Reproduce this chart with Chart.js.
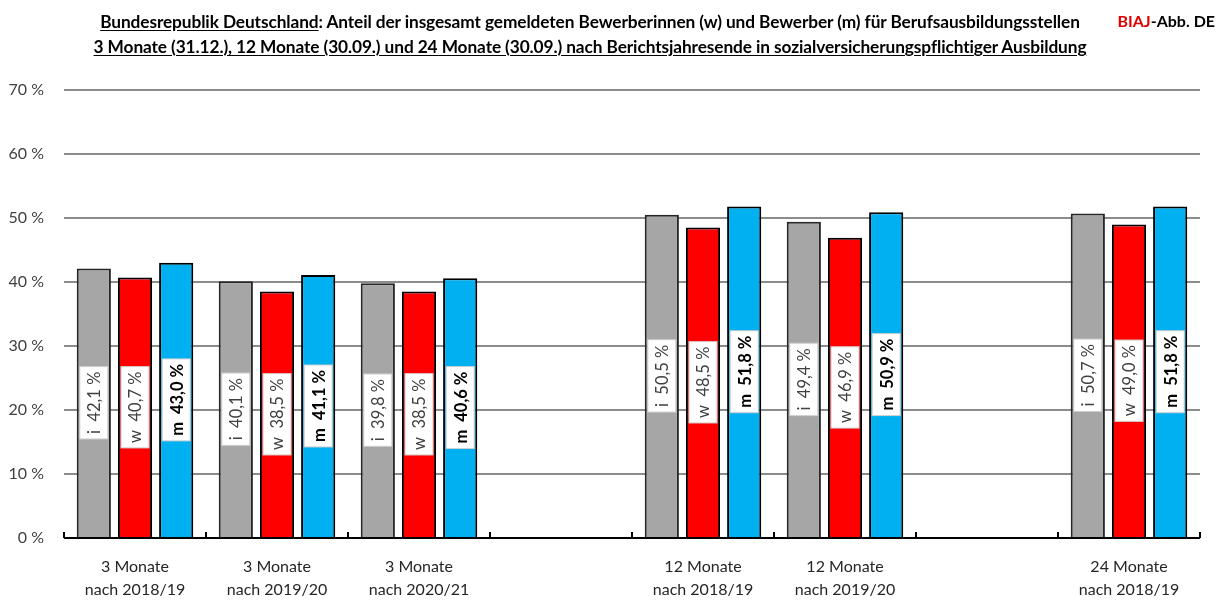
<!DOCTYPE html>
<html lang="de">
<head>
<meta charset="utf-8">
<script src="https://cdn.jsdelivr.net/npm/chart.js@4.4.1/dist/chart.umd.min.js"></script>
<style>
    html, body { margin: 0; padding: 0; background: #fff; }
    #wrap { position: relative; width: 1223px; height: 601px; }
    #chart { position: absolute; left: 0; top: 0; }
    .title {
        position: absolute; left: 40px; width: 1100px; text-align: center;
        font-family: Lato, "Open Sans", sans-serif; font-weight: bold; font-size: 17.3px;
        color: #000; white-space: nowrap; letter-spacing: -0.1px;
    }
    .title u { text-underline-offset: 2px; }
    #t1 { top: 11px; }
    #t2 { top: 36px; }
    #brand {
        position: absolute; right: 8px; top: 11px; white-space: nowrap;
        font-family: Lato, "Open Sans", sans-serif; font-weight: bold; font-size: 16px; color: #000;
    }
    #brand span { color: #e00000; }
</style>
</head>
<body>
<div id="wrap">
    <canvas id="chart" width="1223" height="601"></canvas>
    <div class="title" id="t1"><u>Bundesrepublik Deutschland</u>: Anteil der insgesamt gemeldeten Bewerberinnen (w) und Bewerber (m) für Berufsausbildungsstellen</div>
    <div class="title" id="t2"><u>3 Monate (31.12.), 12 Monate (30.09.) und 24 Monate (30.09.) nach Berichtsjahresende in sozialversicherungspflichtiger Ausbildung</u></div>
    <div id="brand"><span>BIAJ</span>-Abb. DE</div>
</div>
<script>
    const categories = [
        ["3 Monate", "nach 2018/19"],
        ["3 Monate", "nach 2019/20"],
        ["3 Monate", "nach 2020/21"],
        "",
        ["12 Monate", "nach 2018/19"],
        ["12 Monate", "nach 2019/20"],
        "",
        ["24 Monate", "nach 2018/19"]
    ];
    const insgesamt = [42.1, 40.1, 39.8, null, 50.5, 49.4, null, 50.7];
    const frauen = [40.7, 38.5, 38.5, null, 48.5, 46.9, null, 49.0];
    const maenner = [43.0, 41.1, 40.6, null, 51.8, 50.9, null, 51.8];
    const seriesPrefix = ["i", "w", "m"];
    const yTicks = [0, 10, 20, 30, 40, 50, 60, 70];

    const fmt = (v) => v.toFixed(1).replace(".", ",") + " %";

    // Rotated value labels in white boxes at the middle of each bar
    const barLabels = {
        id: "barLabels",
        afterDatasetsDraw(chart) {
            const ctx = chart.ctx;
            chart.data.datasets.forEach((ds, di) => {
                const meta = chart.getDatasetMeta(di);
                meta.data.forEach((bar, i) => {
                    const v = ds.data[i];
                    if (v === null || v === undefined) {
                        return;
                    }
                    const bold = di === 2;
                    const text = seriesPrefix[di] + "  " + fmt(v);
                    ctx.save();
                    ctx.font = (bold ? "bold " : "") + "16.5px Lato, 'Open Sans', sans-serif";
                    const w = ctx.measureText(text).width + 10;
                    const h = 28;
                    const cy = (bar.y + bar.base) / 2;
                    ctx.translate(bar.x, cy);
                    ctx.rotate(-Math.PI / 2);
                    ctx.fillStyle = "#fff";
                    ctx.fillRect(-w / 2, -h / 2, w, h);
                    ctx.strokeStyle = "#d0d0d0";
                    ctx.lineWidth = 1;
                    ctx.strokeRect(-w / 2, -h / 2, w, h);
                    ctx.fillStyle = bold ? "#000" : "#404040";
                    ctx.textAlign = "center";
                    ctx.textBaseline = "middle";
                    ctx.fillText(text, 0, 1);
                    ctx.restore();
                });
            });
        }
    };

    // Bottom axis line with small upward ticks between categories
    const axisTicks = {
        id: "axisTicks",
        afterDatasetsDraw(chart) {
            const ctx = chart.ctx;
            const area = chart.chartArea;
            const x = chart.scales.x;
            const step = (area.right - area.left) / categories.length;
            ctx.save();
            ctx.strokeStyle = "#000";
            ctx.lineWidth = 2;
            ctx.beginPath();
            ctx.moveTo(area.left, area.bottom);
            ctx.lineTo(area.right, area.bottom);
            for (let i = 0; i <= categories.length; i++) {
                const px = Math.round(x.left + i * step);
                ctx.moveTo(px, area.bottom);
                ctx.lineTo(px, area.bottom - 6);
            }
            ctx.stroke();
            ctx.restore();
        }
    };

    new Chart(document.getElementById("chart"), {
        type: "bar",
        data: {
            labels: categories,
            datasets: [
                { label: "i", data: insgesamt, backgroundColor: "#a6a6a6", borderColor: "#262626" },
                { label: "w", data: frauen, backgroundColor: "#ff0000", borderColor: "#000" },
                { label: "m", data: maenner, backgroundColor: "#00b0f0", borderColor: "#000" }
            ]
        },
        options: {
            responsive: false,
            animation: false,
            layout: { padding: { top: 90, right: 23, bottom: 0, left: 0 } },
            datasets: {
                bar: {
                    categoryPercentage: 0.87,
                    barPercentage: 0.83,
                    borderWidth: 2,
                    borderSkipped: "bottom"
                }
            },
            scales: {
                x: {
                    grid: { display: false, drawTicks: false },
                    border: { display: false },
                    ticks: {
                        color: "#262626",
                        padding: 18,
                        font: { family: "Lato, 'Open Sans', sans-serif", size: 16, lineHeight: 1.4 },
                        maxRotation: 0,
                        autoSkip: false
                    },
                    afterFit(scale) { scale.height = 63; }
                },
                y: {
                    min: 0,
                    max: 70,
                    afterBuildTicks(scale) { scale.ticks = yTicks.map(v => ({ value: v })); },
                    grid: { color: "#8c8c8c", lineWidth: 2, drawTicks: false },
                    border: { display: false },
                    ticks: {
                        color: "#404040",
                        padding: 20,
                        font: { family: "Lato, 'Open Sans', sans-serif", size: 16 },
                        callback: (v) => v + " %"
                    },
                    afterFit(scale) { scale.width = 64; }
                }
            },
            plugins: {
                legend: { display: false },
                tooltip: { enabled: false }
            }
        },
        plugins: [barLabels, axisTicks]
    });
</script>
</body>
</html>
